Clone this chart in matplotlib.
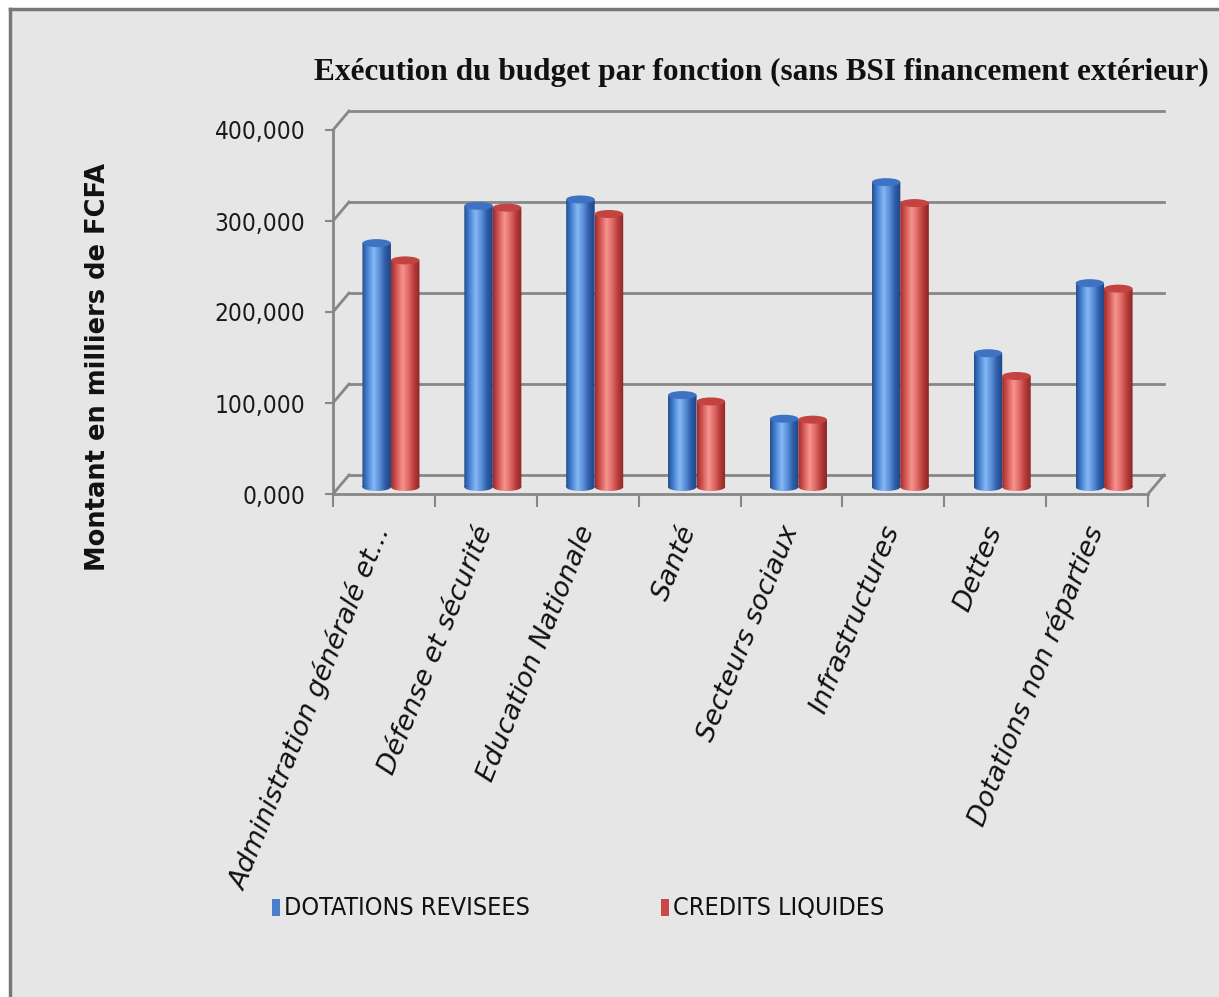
import matplotlib
matplotlib.use("Agg")
import matplotlib.pyplot as plt
import numpy as np
from matplotlib import transforms
from matplotlib.patches import Rectangle, Ellipse, PathPatch
from matplotlib.path import Path
from matplotlib.colors import LinearSegmentedColormap

# ---------------- data ----------------
categories = ["Administration généralé et...", "Défense et sécurité", "Education Nationale",
              "Santé", "Secteurs sociaux", "Infrastructures", "Dettes", "Dotations non réparties"]
dotations_revisees = [268, 309, 316, 101, 75, 335, 147, 224]
credits_liquides = [249, 307, 300, 94, 74, 312, 122, 218]
series_names = ["DOTATIONS REVISEES", "CREDITS LIQUIDES"]
yticks = [0, 100, 200, 300, 400]
title = "Exécution du budget par fonction (sans BSI financement extérieur)"
ylabel = "Montant en milliers de FCFA"

W, H = 1219, 997
fig = plt.figure(figsize=(W / 100, H / 100), dpi=100)
fig.patch.set_facecolor("white")

# background panel
bg = fig.add_axes([0, 0, 1, 1], zorder=-10)
bg.set_xlim(0, W); bg.set_ylim(H, 0); bg.axis("off")
bg.add_patch(Rectangle((10, 9), W - 10, H - 9, facecolor="#e6e6e6", edgecolor="none"))
bg.plot([10, 10], [H, 9], color="#777777", lw=2.5)
bg.plot([10, W], [9, 9], color="#777777", lw=2.5)

# plot axes = front plane
x0, x1, yb, yt = 333, 1148, 494, 130
ax = fig.add_axes([x0 / W, 1 - yb / H, (x1 - x0) / W, (yb - yt) / H])
ax.patch.set_alpha(0)
n = len(categories)
ax.set_xlim(0, n); ax.set_ylim(0, 400)
grid_col = "#878787"

back = transforms.offset_copy(ax.transData, fig=fig, x=16, y=19, units="dots")
mid = transforms.offset_copy(ax.transData, fig=fig, x=7, y=7, units="dots")
inv = ax.transData.inverted()

for v in yticks:
    ax.plot([0, n], [v, v], color=grid_col, lw=2, transform=back, clip_on=False, zorder=1)
    q0 = inv.transform(ax.transData.transform((0, v)))
    q1 = inv.transform(back.transform((0, v)))
    ax.plot([q0[0], q1[0]], [q0[1], q1[1]], color=grid_col, lw=2, clip_on=False, zorder=1)
q0 = inv.transform(ax.transData.transform((n, 0)))
q1 = inv.transform(back.transform((n, 0)))
ax.plot([q0[0], q1[0]], [q0[1], q1[1]], color=grid_col, lw=2, clip_on=False, zorder=1)

for s in ["top", "right"]:
    ax.spines[s].set_visible(False)
for s in ["left", "bottom"]:
    ax.spines[s].set_color(grid_col)
    ax.spines[s].set_linewidth(2)
ax.set_yticks(yticks)
ax.set_yticklabels([f"{v:.3f}".replace(".", ",") for v in yticks],
                   fontsize=17.5, family="DejaVu Sans", fontstretch="condensed", color="#1a1a1a")
ax.set_xticks(np.arange(n + 1))
ax.set_xticklabels([])
ax.tick_params(axis="y", length=6, width=1.5, color=grid_col, pad=14)
ax.tick_params(axis="x", length=9, width=1.5, color=grid_col)

# cylinders
blue_cmap = LinearSegmentedColormap.from_list("b", ["#244f90", "#4a86d8", "#86b8f2", "#5b90da", "#2f5ea8", "#1f4584"])
red_cmap = LinearSegmentedColormap.from_list("r", ["#9c2c2c", "#d85a58", "#f69490", "#e06a66", "#b83c3a", "#8c2626"])
grad = np.linspace(0, 1, 64).reshape(1, -1)
bw = 0.28
eh = 8 * 400 / (yb - yt)  # ellipse height in data units (8 px)

def cylinder(xc, v, cmap, topcol):
    xl, xr = xc - bw / 2, xc + bw / 2
    rect = Path([(xl, 0), (xr, 0), (xr, v), (xl, v), (xl, 0)],
                [Path.MOVETO, Path.LINETO, Path.LINETO, Path.LINETO, Path.CLOSEPOLY])
    ell = transforms.Affine2D().scale(bw / 2, eh / 2).translate(xc, 0).transform_path(Path.unit_circle())
    body = Path.make_compound_path(rect, ell)
    patch = PathPatch(body, facecolor="none", edgecolor="none", transform=mid)
    ax.add_patch(patch)
    im = ax.imshow(grad, cmap=cmap, extent=[xl, xr, -eh, v], aspect="auto",
                   transform=mid, zorder=3, interpolation="bilinear")
    im.set_clip_path(patch)
    ax.add_patch(Ellipse((xc, v), bw, eh, facecolor=topcol, edgecolor="none",
                         transform=mid, zorder=4))

for i in range(n):
    cylinder(i + 0.5 - bw / 2, dotations_revisees[i], blue_cmap, "#3e72c2")
    cylinder(i + 0.5 + bw / 2, credits_liquides[i], red_cmap, "#c2433f")

ax.set_xlim(0, n); ax.set_ylim(0, 400)

# category labels
lab_t = transforms.offset_copy(transforms.blended_transform_factory(ax.transData, ax.transAxes),
                               fig=fig, x=12, y=-28, units="dots")
for i, c in enumerate(categories):
    ax.text(i + 0.5, 0, c, rotation=68, ha="right", va="top",
            fontsize=19.5, style="italic", family="DejaVu Sans", color="#111111",
            transform=lab_t, rotation_mode="default")

# title and y label
fig.text(761 / W, 1 - 72 / H, title, ha="center", va="center", fontsize=22.5,
         fontweight="bold", family="Liberation Serif", color="#111111")
fig.text(98 / W, 1 - 367 / H, ylabel, rotation=90, ha="center", va="center",
         fontsize=18.5, fontweight="bold", family="DejaVu Sans", color="#111111")

# legend
leg_font = dict(fontsize=18, family="DejaVu Sans", fontstretch="condensed", color="#111111")
bg.add_patch(Rectangle((272, 899), 8, 17, facecolor="#4a7fcf", edgecolor="none"))
bg.text(284, 908, series_names[0], ha="left", va="center", **leg_font)
bg.add_patch(Rectangle((661, 899), 8, 17, facecolor="#c94846", edgecolor="none"))
bg.text(673, 908, series_names[1], ha="left", va="center", **leg_font)

fig.savefig("out.png", dpi=100, facecolor=fig.get_facecolor())
